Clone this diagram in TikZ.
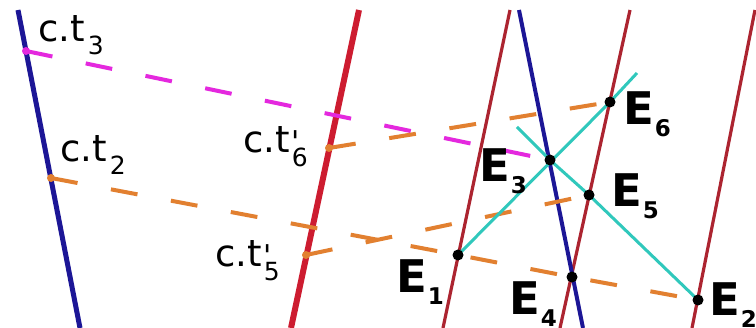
\documentclass[tikz,border=0pt]{standalone}
\usepackage{fontspec}
\setmainfont{DejaVu Sans}
\newfontfamily\dvsplain{DejaVu Sans}
\definecolor{navyL}{RGB}{28,22,150}
\definecolor{redThick}{RGB}{205,28,48}
\definecolor{redThin}{RGB}{172,36,48}
\definecolor{cyanL}{RGB}{48,200,188}
\definecolor{orangeL}{RGB}{226,128,48}
\definecolor{magL}{RGB}{228,40,222}
\newcommand{\ctlab}[1]{{\fontsize{37}{37}\selectfont c.t\kern3pt\raisebox{-13pt}{\fontsize{25}{25}\selectfont #1}}}
\newcommand{\ctplab}[1]{{\fontsize{37}{37}\selectfont c.t\kern2pt\rlap{\dvsplain\fontsize{30}{30}\selectfont '}\raisebox{-14pt}{\fontsize{25}{25}\selectfont #1}}}
\newcommand{\Elab}[1]{{\bfseries\fontsize{45}{45}\selectfont E\kern1pt\raisebox{-12pt}{\fontsize{23}{23}\selectfont #1}}}
\begin{document}
\begin{tikzpicture}[x=1pt,y=-1pt,
  worldline/.style={line width=3.2pt, draw=redThin},
  thickred/.style={line width=6pt, draw=redThick},
  bluel/.style={line width=5pt, draw=navyL},
  signal/.style={line width=4pt, dash pattern=on 27pt off 34pt},
  cyanline/.style={line width=3pt, draw=cyanL},
  evt/.style={circle, fill=black, minimum size=11pt, inner sep=0pt},
  cdot/.style={circle, minimum size=8pt, inner sep=0pt},
  lbl/.style={anchor=base west, inner sep=0pt, text=black}]
\useasboundingbox[fill=white] (0,0) rectangle (756,328);
% line end points
\coordinate (b1t) at (18,10);  \coordinate (b1b) at (80,328);
\coordinate (r1t) at (359,10); \coordinate (r1b) at (291,328);
\coordinate (r2t) at (510,10); \coordinate (r2b) at (443,328);
\coordinate (b2t) at (519,10); \coordinate (b2b) at (583,328);
\coordinate (r3t) at (630,10); \coordinate (r3b) at (560,328);
\coordinate (r4t) at (755,10); \coordinate (r4b) at (692,328);
% events
\coordinate (ct3) at (26,51);
\coordinate (ct2) at (51,178);
\coordinate (ct6) at (329,148);
\coordinate (ct5) at (306,255);
\coordinate (E1) at (458,255);
\coordinate (E3) at (550,160);
\coordinate (E6) at (610,102);
\coordinate (E5) at (589,195);
\coordinate (E4) at (572,277);
\coordinate (E2) at (698,300);
\coordinate (cA) at (637,73);
\coordinate (cB) at (517,127);
% world lines
\draw[worldline] (r2t) -- (r2b);
\draw[worldline] (r3t) -- (r3b);
\draw[worldline] (r4t) -- (r4b);
\draw[thickred] (r1t) -- (r1b);
\draw[bluel] (b1t) -- (b1b);
\draw[bluel, line width=4pt] (b2t) -- (b2b);
% signals
\draw[signal, draw=magL] (ct3) -- (E3);
\draw[signal, draw=orangeL] (ct2) -- (E1) -- (E4) -- (E2);
\draw[signal, draw=orangeL] (ct5) -- (E5);
\draw[signal, draw=orangeL] (ct6) -- (E6);
% cyan lines
\draw[cyanline] (E1) -- (E6) -- (cA);
\draw[cyanline] (cB) -- (E3) -- (E5) -- (E2);
% dots
\node[cdot, fill=magL] (d3) at (ct3) {};
\node[cdot, fill=orangeL] (d2) at (ct2) {};
\node[cdot, fill=orangeL] (d6) at (ct6) {};
\node[cdot, fill=orangeL] (d5) at (ct5) {};
\foreach \e in {E1,E2,E3,E4,E5,E6} \node[evt] (n\e) at (\e) {};
% labels
\node[lbl] (l3) at (38,42) {\ctlab{3}};
\node[lbl] (l2) at (60,162) {\ctlab{2}};
\node[lbl] (l6) at (243,153) {\ctplab{6}};
\node[lbl] (l5) at (215,267) {\ctplab{5}};
\node[lbl] (lE1) at (396,293) {\Elab{1}};
\node[lbl] (lE3) at (479,182) {\Elab{3}};
\node[lbl] (lE6) at (623,125) {\Elab{6}};
\node[lbl] (lE5) at (611,207) {\Elab{5}};
\node[lbl] (lE4) at (509,315) {\Elab{4}};
\node[lbl] (lE2) at (709,316) {\Elab{2}};
\end{tikzpicture}
\end{document}
